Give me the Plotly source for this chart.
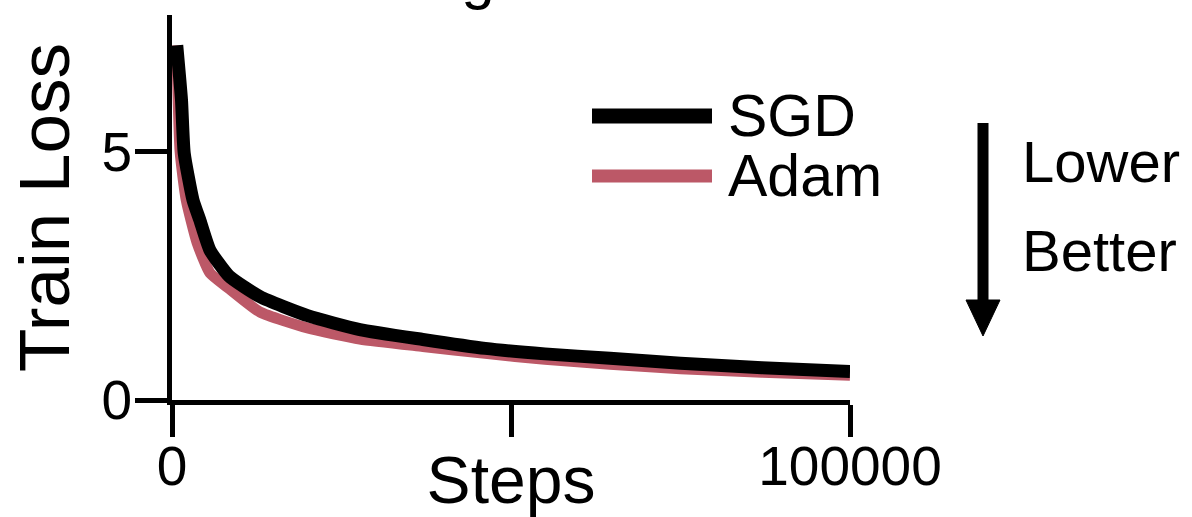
import plotly.graph_objects as go

# ---- data ----
sgd_steps = [700, 1400, 1800, 3100, 4100, 5600, 8400, 13000, 20000, 27700,
             37000, 46200, 55000, 64600, 75000, 87000, 100000]
sgd_loss = [7.15, 6.05, 4.98, 4.03, 3.63, 3.02, 2.50, 2.08, 1.70, 1.42,
            1.22, 1.04, 0.93, 0.84, 0.74, 0.65, 0.575]

adam_steps = [700, 1200, 2100, 3700, 5600, 8500, 13000, 20000, 27700,
              37000, 46200, 55000, 64600, 75000, 87000, 100000]
adam_loss = [7.15, 5.00, 4.03, 3.17, 2.56, 2.24, 1.77, 1.45, 1.23,
             1.08, 0.94, 0.82, 0.72, 0.63, 0.56, 0.50]

x_tickvals = [0, 50000, 100000]
x_ticktext = ["0", "", "100000"]
y_tickvals = [0, 5]
y_ticktext = ["0", "5"]

series_names = ["SGD", "Adam"]
series_colors = ["#000000", "#bc5867"]

FONT = "Liberation Sans, Arial, Helvetica, sans-serif"
W, H = 1192, 517
L, R, T, B = 172, 1192 - 850, 15, 517 - 400
PW, PH = W - L - R, H - T - B


def px(xp):
    return (xp - L) / PW


def py(yp):
    return (H - B - yp) / PH


fig = go.Figure()
fig.add_trace(go.Scatter(x=adam_steps, y=adam_loss, mode="lines", name=series_names[1],
                         line=dict(color=series_colors[1], width=11, shape="spline", smoothing=0.5),
                         showlegend=False))
fig.add_trace(go.Scatter(x=sgd_steps, y=sgd_loss, mode="lines", name=series_names[0],
                         line=dict(color=series_colors[0], width=13, shape="spline", smoothing=0.5),
                         showlegend=False))

axis_common = dict(showline=True, linecolor="black", linewidth=5, ticks="outside",
                   ticklen=32, tickwidth=5, tickcolor="black", showgrid=False, zeroline=False,
                   automargin=False,
                   tickfont=dict(family=FONT, size=55, color="black"))

fig.update_xaxes(range=[0, 100000], tickvals=x_tickvals, ticktext=x_ticktext,
                 ticklabelstandoff=-18,
                 title=dict(text="Steps", font=dict(family=FONT, size=66, color="black"), standoff=6),
                 **axis_common)
fig.update_yaxes(range=[0, 7.76], tickvals=y_tickvals, ticktext=y_ticktext,
                 ticklabelstandoff=-8,
                 title=dict(text="Train Loss", font=dict(family=FONT, size=71, color="black"), standoff=10),
                 **axis_common)

shapes = []
annotations = []
# manual legend
leg_y = [116, 176]
for name, color, yy, w in zip(series_names, series_colors, leg_y, [15, 13]):
    shapes.append(dict(type="line", xref="paper", yref="paper", x0=px(592), x1=px(712),
                       y0=py(yy), y1=py(yy), line=dict(color=color, width=w)))
    annotations.append(dict(text=name, xref="paper", yref="paper", x=px(726), y=py(yy),
                            xanchor="left", yanchor="middle", showarrow=False,
                            font=dict(family=FONT, size=59, color="black")))

# "Lower Better" arrow
shapes.append(dict(type="line", xref="paper", yref="paper", x0=px(983), x1=px(983),
                   y0=py(123), y1=py(305), line=dict(color="black", width=11)))
shapes.append(dict(type="path", xref="paper", yref="paper",
                   path=f"M {px(966)} {py(300)} L {px(1000)} {py(300)} L {px(983)} {py(336)} Z",
                   fillcolor="black", line=dict(color="black", width=1)))
annotations.append(dict(text="Lower", xref="paper", yref="paper", x=px(1020), y=py(161),
                        xanchor="left", yanchor="middle", showarrow=False,
                        font=dict(family=FONT, size=58, color="black")))
annotations.append(dict(text="Better", xref="paper", yref="paper", x=px(1020), y=py(250),
                        xanchor="left", yanchor="middle", showarrow=False,
                        font=dict(family=FONT, size=58, color="black")))

# clipped title fragment at the top
annotations.append(dict(text="Training", xref="paper", yref="paper", x=px(497), y=py(0),
                        xanchor="right", yanchor="bottom", yshift=-13, showarrow=False,
                        font=dict(family=FONT, size=60, color="black")))

fig.update_layout(width=W, height=H, margin=dict(l=L, r=R, t=T, b=B, autoexpand=False),
                  plot_bgcolor="white", paper_bgcolor="white",
                  shapes=shapes, annotations=annotations, showlegend=False)

fig.write_html("out.html")
